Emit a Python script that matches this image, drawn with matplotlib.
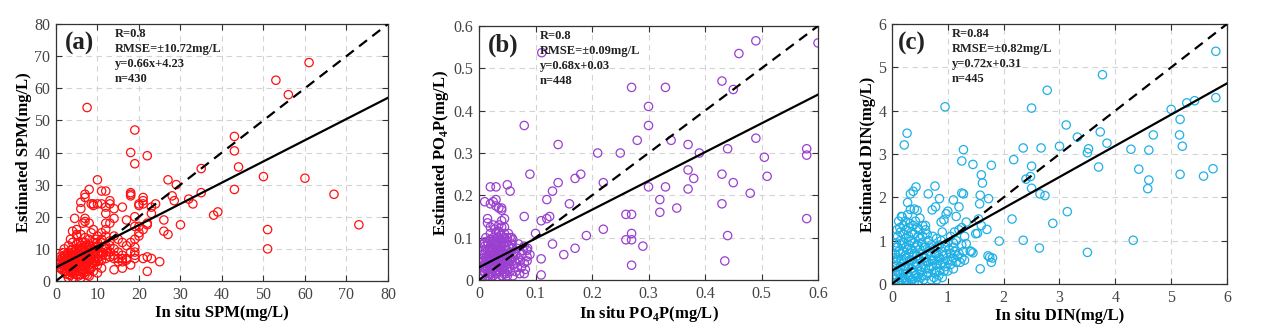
import matplotlib
matplotlib.use("Agg")
import matplotlib.pyplot as plt
import numpy as np

plt.rcParams["font.family"] = ["Liberation Serif", "DejaVu Serif"]
plt.rcParams["mathtext.fontset"] = "custom"
plt.rcParams["mathtext.rm"] = "Liberation Serif:bold"
plt.rcParams["mathtext.bf"] = "Liberation Serif:bold"

# ---- panel (a): SPM (in situ, estimated) ----
spm_points = [
    (7.5, 54), (19, 47), (18, 40), (22, 39), (19, 36.5), (10, 31.5), (8, 28.5), (12, 28), (11, 28),
    (7, 27), (7, 26), (18, 27.5), (18, 27), (18, 26.5), (21, 26), (21, 25), (27, 31.5), (29, 30),
    (28, 26.5), (28.5, 25), (32, 25.5), (33, 24), (35, 35), (35, 27.5), (38, 20.5), (39, 21.5),
    (30, 17.5), (26, 19), (26, 15.5), (27, 14.5), (43, 45), (43, 40.5), (44, 35.5), (43, 28.5),
    (50, 32.5), (53, 62.5), (56, 58), (61, 68), (60, 32), (67, 27), (73, 17.5), (51, 16), (51, 10),
    (22, 3), (25, 6), (23, 7), (22, 7.5), (21, 7), (19, 10.5), (19, 9), (19, 8), (19, 7), (18, 12),
    (18, 5), (16, 8), (16, 7), (16, 4), (14, 3.5), (14, 7), (15, 6), (17, 6.5), (13, 12.5), (14, 14),
    (14, 19.5), (13, 18), (13, 25), (13, 24), (12, 23), (12, 21), (12, 18), (12, 16), (14, 22.5),
    (16, 23), (17, 19), (19, 20), (20, 23.5), (20, 24), (21, 24), (22, 18), (21, 16), (20, 15),
    (20, 14), (19, 13), (19, 17), (20, 17), (23, 23), (23, 21), (24, 24), (22, 17.5), (9, 24),
    (9, 23.5), (10, 24), (8.5, 24), (11, 24), (6, 24.5), (6, 22.5), (7, 19.5), (7, 18.5), (6.5, 18),
    (4.5, 19.5), (8, 18), (5, 16), (4, 15.5), (5, 14.5), (10, 14), (10, 12), (11, 15), (12, 14),
    (9, 16), (16, 12), (15, 13), (17, 11), (18, 9),
    # dense low cluster
    (1, 6), (1.5, 5), (1.5, 7), (2, 4), (2, 6), (2, 8), (2, 10), (2.5, 3), (2.5, 5), (2.5, 7), (3, 2),
    (3, 4), (3, 5.5), (3, 7), (3, 9), (3, 11), (3.5, 3), (3.5, 6), (3.5, 8), (3.5, 13), (4, 1),
    (4, 2.5), (4, 4), (4, 5), (4, 6.5), (4, 8), (4, 10), (4, 12), (4.5, 3), (4.5, 5), (4.5, 7),
    (4.5, 9), (5, 2), (5, 4), (5, 6), (5, 8), (5, 10), (5, 11.5), (5, 14), (5.5, 3), (5.5, 5),
    (5.5, 7), (5.5, 9), (5.5, 12), (6, 2), (6, 4), (6, 6), (6, 8), (6, 10), (6, 11), (6.5, 3.5),
    (6.5, 6.5), (6.5, 9), (6.5, 12), (7, 2), (7, 4.5), (7, 6), (7, 7.5), (7, 9), (7, 10.5), (7, 12),
    (7.5, 3), (7.5, 5.5), (7.5, 8), (7.5, 11), (8, 3.5), (8, 5), (8, 6.5), (8, 8), (8, 9.5), (8, 11),
    (8, 13), (8.5, 4), (8.5, 7), (8.5, 10), (9, 3), (9, 5.5), (9, 7), (9, 8.5), (9, 10), (9, 12),
    (9.5, 6), (9.5, 9), (10, 2.5), (10, 5), (10, 7), (10, 8.5), (10, 11), (11, 4), (11, 6.5),
    (11, 9), (11, 12), (11, 13), (12, 7), (12, 8), (12, 10), (12, 11), (13, 7.5), (13, 9), (13, 11),
    (14, 8), (14, 10), (15, 7), (15, 9), (16, 6), (17, 7), (6, 1), (8, 1.5), (3, 1), (2, 3), (1, 4),
    (1.5, 3.5), (0.5, 5.5), (1, 7.5), (7, 13.5), (6, 14.5), (8.5, 15), (9.5, 13),
    (1.2, 5.5), (1.8, 6.2), (2.2, 4.6), (2.3, 7.4), (2.7, 5.8), (2.8, 8.6), (3.2, 3.4), (3.3, 6.3),
    (3.6, 4.6), (3.7, 7.2), (3.8, 9.6), (4.2, 5.6), (4.3, 7.4), (4.6, 4.2), (4.7, 6.1), (4.8, 8.4),
    (5.2, 5.2), (5.3, 6.9), (5.4, 9.8), (5.7, 4.4), (5.8, 6.2), (5.9, 8.1), (6.2, 5.1), (6.3, 7.2),
    (6.4, 10.4), (6.7, 4.6), (6.8, 8.2), (7.2, 5.3), (7.3, 7.0), (7.4, 9.6), (7.7, 6.4), (7.8, 8.9),
    (8.2, 4.4), (8.3, 7.4), (8.4, 9.0), (8.7, 5.8), (8.8, 8.2), (9.2, 6.4), (9.3, 9.4), (9.7, 7.6),
    (9.8, 10.6), (10.3, 6.2), (10.5, 9.2), (10.7, 7.8), (11.3, 8.2), (11.6, 10.4), (12.4, 9.2),
    (2.4, 2.2), (3.4, 1.8), (4.4, 2.2), (5.4, 1.6), (6.6, 2.4), (7.6, 1.8), (1.3, 4.2), (0.8, 6.6),
    (1.7, 8.8),
]

# ---- panel (b): PO4P ----
po4_points = [
    (0.49, 0.565), (0.6, 0.56), (0.46, 0.535), (0.111, 0.537), (0.43, 0.47), (0.45, 0.45),
    (0.27, 0.455), (0.33, 0.455), (0.3, 0.41), (0.08, 0.365), (0.3, 0.365), (0.28, 0.33),
    (0.34, 0.33), (0.14, 0.32), (0.37, 0.32), (0.44, 0.31), (0.49, 0.335), (0.58, 0.31),
    (0.58, 0.295), (0.21, 0.3), (0.25, 0.3), (0.39, 0.3), (0.505, 0.29), (0.37, 0.26), (0.43, 0.25),
    (0.51, 0.245), (0.09, 0.25), (0.18, 0.25), (0.17, 0.24), (0.38, 0.24), (0.14, 0.23),
    (0.22, 0.23), (0.45, 0.23), (0.3, 0.22), (0.33, 0.22), (0.37, 0.215), (0.48, 0.205),
    (0.13, 0.21), (0.12, 0.19), (0.16, 0.18), (0.32, 0.19), (0.43, 0.18), (0.35, 0.17),
    (0.32, 0.16), (0.26, 0.155), (0.27, 0.155), (0.58, 0.145), (0.11, 0.14), (0.12, 0.145),
    (0.125, 0.15), (0.08, 0.15), (0.22, 0.12), (0.27, 0.11), (0.1, 0.11), (0.19, 0.105),
    (0.44, 0.105), (0.26, 0.095), (0.27, 0.095), (0.13, 0.085), (0.29, 0.08), (0.17, 0.075),
    (0.15, 0.06), (0.11, 0.05), (0.435, 0.045), (0.27, 0.035), (0.11, 0.012), (0.08, 0.015),
    (0.085, 0.055), (0.085, 0.045), (0.086, 0.075), (0.08, 0.08),
    (0.02, 0.22), (0.03, 0.22), (0.05, 0.225), (0.055, 0.21), (0.01, 0.185), (0.02, 0.18),
    (0.025, 0.185), (0.03, 0.19), (0.03, 0.175), (0.035, 0.17), (0.04, 0.17), (0.04, 0.165),
    (0.04, 0.14), (0.045, 0.145), (0.015, 0.145), (0.015, 0.135), (0.04, 0.125), (0.035, 0.11),
    # dense low cluster
    (0.005, 0.01), (0.005, 0.03), (0.005, 0.05), (0.005, 0.07), (0.01, 0.0), (0.01, 0.02),
    (0.01, 0.04), (0.01, 0.06), (0.01, 0.08), (0.015, 0.01), (0.015, 0.03), (0.015, 0.05),
    (0.015, 0.07), (0.015, 0.09), (0.02, 0.005), (0.02, 0.02), (0.02, 0.035), (0.02, 0.05),
    (0.02, 0.065), (0.02, 0.08), (0.02, 0.095), (0.025, 0.01), (0.025, 0.025), (0.025, 0.04),
    (0.025, 0.055), (0.025, 0.07), (0.025, 0.085), (0.025, 0.1), (0.03, 0.0), (0.03, 0.015),
    (0.03, 0.03), (0.03, 0.045), (0.03, 0.06), (0.03, 0.075), (0.03, 0.09), (0.035, 0.005),
    (0.035, 0.02), (0.035, 0.04), (0.035, 0.06), (0.035, 0.08), (0.035, 0.1), (0.04, 0.01),
    (0.04, 0.03), (0.04, 0.05), (0.04, 0.07), (0.04, 0.09), (0.045, 0.02), (0.045, 0.04),
    (0.045, 0.06), (0.045, 0.08), (0.045, 0.1), (0.05, 0.01), (0.05, 0.03), (0.05, 0.05),
    (0.05, 0.07), (0.05, 0.09), (0.055, 0.02), (0.055, 0.045), (0.055, 0.065), (0.055, 0.1),
    (0.06, 0.01), (0.06, 0.035), (0.06, 0.055), (0.06, 0.075), (0.065, 0.04), (0.065, 0.06),
    (0.065, 0.02), (0.07, 0.05), (0.07, 0.085), (0.075, 0.03), (0.075, 0.06), (0.08, 0.04),
    (0.085, 0.07), (0.03, 0.11), (0.035, 0.115), (0.04, 0.105), (0.045, 0.11), (0.05, 0.1),
    (0.02, 0.11), (0.01, 0.09), (0.012, 0.1), (0.008, 0.085), (0.018, 0.075), (0.022, 0.045),
    (0.028, 0.05), (0.032, 0.065), (0.038, 0.035), (0.042, 0.025), (0.048, 0.015), (0.052, 0.055),
    (0.058, 0.085), (0.062, 0.065), (0.068, 0.03), (0.072, 0.015),
    (0.003, 0.015), (0.007, 0.045), (0.012, 0.025), (0.013, 0.055), (0.017, 0.04), (0.018, 0.06),
    (0.022, 0.015), (0.023, 0.075), (0.027, 0.03), (0.027, 0.065), (0.028, 0.09), (0.032, 0.02),
    (0.033, 0.05), (0.034, 0.085), (0.037, 0.045), (0.038, 0.07), (0.042, 0.06), (0.043, 0.085),
    (0.047, 0.035), (0.047, 0.07), (0.052, 0.04), (0.053, 0.08), (0.006, 0.06), (0.009, 0.035),
    (0.011, 0.07), (0.016, 0.085), (0.019, 0.095), (0.021, 0.03), (0.024, 0.06), (0.026, 0.045),
    (0.029, 0.08), (0.031, 0.04), (0.033, 0.07), (0.036, 0.05), (0.039, 0.095), (0.041, 0.04),
    (0.044, 0.05), (0.046, 0.09), (0.049, 0.06), (0.051, 0.025), (0.004, 0.04), (0.008, 0.02),
    (0.014, 0.045), (0.017, 0.015), (0.023, 0.09), (0.028, 0.02), (0.032, 0.1), (0.036, 0.03),
    (0.04, 0.08), (0.044, 0.015), (0.048, 0.045), (0.054, 0.075), (0.057, 0.05), (0.063, 0.045),
    (0.067, 0.075), (0.073, 0.045), (0.078, 0.07), (0.082, 0.025), (0.09, 0.06), (0.06, 0.095),
    (0.028, 0.12), (0.025, 0.13), (0.045, 0.125), (0.052, 0.11), (0.058, 0.1), (0.035, 0.13),
    (0.02, 0.125),
]

# ---- panel (c): DIN ----
din_points = [
    (5.8, 5.37), (3.77, 4.83), (2.78, 4.47), (5.8, 4.3), (5.42, 4.23), (5.28, 4.18), (5.0, 4.03),
    (2.5, 4.06), (0.95, 4.09), (0.27, 3.48), (0.22, 3.21), (3.12, 3.67), (5.16, 3.8), (5.15, 3.44),
    (4.68, 3.44), (3.73, 3.51), (3.32, 3.39), (3.85, 3.25), (5.2, 3.18), (3.0, 3.18), (3.52, 3.12),
    (2.35, 3.14), (2.67, 3.14), (1.28, 3.1), (4.28, 3.11), (4.6, 3.09), (3.5, 3.03), (2.18, 2.87),
    (1.25, 2.84), (1.45, 2.76), (1.78, 2.74), (2.5, 2.72), (3.7, 2.7), (4.42, 2.65), (5.75, 2.66),
    (5.16, 2.53), (5.58, 2.49), (1.6, 2.52), (2.4, 2.42), (2.48, 2.48), (1.62, 2.33), (4.6, 2.4),
    (4.58, 2.2), (2.5, 2.21), (0.77, 2.26), (0.43, 2.24), (0.38, 2.14), (0.33, 2.08), (0.65, 2.08),
    (1.25, 2.1), (1.28, 2.08), (1.58, 2.05), (1.73, 1.97), (0.85, 1.97), (0.28, 1.88), (1.1, 1.94),
    (2.65, 2.08), (2.74, 2.04), (1.57, 1.85), (1.2, 1.78), (0.78, 1.78), (0.4, 1.73), (0.45, 1.7),
    (0.33, 1.72), (0.72, 1.71), (1.0, 1.68), (0.97, 1.62), (0.17, 1.56), (0.5, 1.52), (1.15, 1.56),
    (2.15, 1.5), (3.14, 1.67), (1.55, 1.5), (0.93, 1.48), (0.88, 1.43), (1.33, 1.43), (1.6, 1.35),
    (2.88, 1.4), (1.7, 1.26), (1.12, 1.2), (1.3, 1.1), (1.5, 1.16), (1.53, 1.17), (1.92, 0.99),
    (2.35, 1.01), (4.32, 1.01), (2.64, 0.83), (3.5, 0.73), (1.58, 0.35), (1.72, 0.65), (1.78, 0.5),
    (1.8, 0.6), (1.75, 0.62), (1.45, 0.72), (1.42, 0.75), (1.4, 0.76), (1.33, 0.93),
    (1.2, 1.25), (1.05, 1.1), (1.1, 0.95), (1.25, 1.3), (0.6, 1.25), (0.55, 1.35),
    # dense low cluster
    (0.05, 0.1), (0.05, 0.4), (0.05, 0.7), (0.08, 0.2), (0.08, 0.55), (0.08, 0.95), (0.1, 0.05),
    (0.1, 0.3), (0.1, 0.6), (0.1, 0.85), (0.1, 1.1), (0.15, 0.15), (0.15, 0.4), (0.15, 0.7),
    (0.15, 1.0), (0.15, 1.2), (0.2, 0.05), (0.2, 0.25), (0.2, 0.5), (0.2, 0.75), (0.2, 0.95),
    (0.2, 1.15), (0.2, 1.35), (0.25, 0.1), (0.25, 0.35), (0.25, 0.6), (0.25, 0.85), (0.25, 1.05),
    (0.25, 1.25), (0.3, 0.0), (0.3, 0.2), (0.3, 0.45), (0.3, 0.7), (0.3, 0.9), (0.3, 1.1),
    (0.3, 1.3), (0.35, 0.1), (0.35, 0.35), (0.35, 0.55), (0.35, 0.8), (0.35, 1.0), (0.35, 1.2),
    (0.4, 0.05), (0.4, 0.25), (0.4, 0.5), (0.4, 0.7), (0.4, 0.95), (0.4, 1.15), (0.45, 0.15),
    (0.45, 0.4), (0.45, 0.65), (0.45, 0.9), (0.45, 1.3), (0.5, 0.3), (0.5, 0.55), (0.5, 0.8),
    (0.5, 1.05), (0.55, 0.2), (0.55, 0.45), (0.55, 0.7), (0.55, 1.1), (0.6, 0.35), (0.6, 0.6),
    (0.6, 0.85), (0.6, 1.35), (0.65, 0.25), (0.65, 0.5), (0.65, 0.75), (0.65, 1.0), (0.7, 0.4),
    (0.7, 0.65), (0.7, 0.9), (0.75, 0.15), (0.75, 0.55), (0.75, 0.8), (0.8, 0.1), (0.8, 0.45),
    (0.8, 0.7), (0.8, 1.05), (0.85, 0.3), (0.85, 0.6), (0.85, 0.9), (0.9, 0.5), (0.9, 0.75),
    (0.9, 1.2), (0.95, 0.4), (0.95, 0.85), (1.0, 0.55), (1.0, 0.95), (1.05, 0.45), (1.05, 0.7),
    (1.1, 0.6), (1.1, 0.85), (1.15, 0.5), (1.15, 1.0), (1.2, 0.7), (1.25, 0.6), (1.25, 0.9),
    (1.3, 0.55), (0.02, 0.3), (0.02, 0.6), (0.03, 0.0), (0.12, 1.45), (0.18, 1.55), (0.28, 1.6),
    (0.07, 0.5), (0.12, 0.75), (0.13, 0.25), (0.17, 0.55), (0.18, 0.9), (0.22, 0.4), (0.23, 0.65),
    (0.27, 0.25), (0.28, 0.8), (0.32, 0.55), (0.33, 1.0), (0.37, 0.65), (0.38, 0.3), (0.42, 0.85),
    (0.43, 0.45), (0.47, 1.1), (0.48, 0.6), (0.52, 0.4), (0.53, 0.95), (0.57, 0.6), (0.58, 0.85),
    (0.62, 0.5), (0.63, 1.15), (0.67, 0.35), (0.68, 0.85), (0.72, 0.55), (0.73, 1.1), (0.77, 0.7),
    (0.78, 0.3), (0.82, 0.85), (0.83, 0.55), (0.87, 0.45), (0.88, 1.0), (0.92, 0.65), (0.93, 0.3),
    (0.97, 0.7), (1.02, 0.8), (1.07, 0.55), (1.12, 0.75), (1.17, 0.65), (1.22, 0.5), (1.28, 0.75),
    (0.12, 0.05), (0.17, 0.1), (0.22, 0.15), (0.27, 0.05), (0.32, 0.15), (0.37, 0.1), (0.42, 0.2),
    (0.47, 0.05), (0.52, 0.15), (0.57, 0.1), (0.62, 0.2), (0.7, 0.1), (0.76, 0.25), (0.84, 0.2),
    (0.9, 0.15), (1.0, 0.3), (1.1, 0.35), (0.06, 0.85), (0.09, 1.25), (0.14, 1.3), (0.24, 1.45),
    (0.32, 1.4), (0.38, 1.35), (0.48, 1.25), (0.42, 1.45),
]

# fit coefficients (slope, intercept) and stats text
fits = [(0.66, 4.23), (0.68, 0.03), (0.72, 0.31)]
stats = [
    "R=0.8\nRMSE=\u00b110.72mg/L\ny=0.66x+4.23\nn=430",
    "R=0.8\nRMSE=\u00b10.09mg/L\ny=0.68x+0.03\nn=448",
    "R=0.84\nRMSE=\u00b10.82mg/L\ny=0.72x+0.31\nn=445",
]
tags = ["(a)", "(b)", "(c)"]
limits = [80, 0.6, 6]
ticks = [
    np.arange(0, 81, 10),
    [0, 0.1, 0.2, 0.3, 0.4, 0.5, 0.6],
    np.arange(0, 7, 1),
]
tick_labels = [
    [str(t) for t in range(0, 81, 10)],
    ["0", "0.1", "0.2", "0.3", "0.4", "0.5", "0.6"],
    [str(t) for t in range(0, 7)],
]
xlabels = ["In situ SPM(mg/L)", r"In situ PO$_{\mathbf{4}}$P(mg/L)", "In situ DIN(mg/L)"]
ylabels = ["Estimated SPM(mg/L)", r"Estimated PO$_{\mathbf{4}}$P(mg/L)", "Estimated DIN(mg/L)"]
colors = ["#FF1010", "#9A3FCF", "#1FB0E6"]
datasets = [spm_points, po4_points, din_points]

# axes boxes in figure fractions
boxes = [
    [0.0441, 0.1433, 0.2616, 0.7835],
    [0.3775, 0.1463, 0.2671, 0.7744],
    [0.7029, 0.1341, 0.2640, 0.7927],
]
text_x = [0.178, 0.18, 0.179]
tag_x = [0.027, 0.027, 0.018]

fig = plt.figure(figsize=(12.69, 3.28), dpi=100)

for i in range(3):
    ax = fig.add_axes(boxes[i])
    pts = np.array(datasets[i])
    ax.scatter(pts[:, 0], pts[:, 1], s=36, facecolors="none",
               edgecolors=colors[i], linewidths=0.9, zorder=2)

    lim = limits[i]
    xx = np.array([0, lim])
    ax.plot(xx, xx, color="black", linestyle=(0, (4.5, 3)), linewidth=1.6, zorder=3)
    k, b = fits[i]
    ax.plot(xx, k * xx + b, color="black", linewidth=1.6, zorder=3)

    ax.set_xlim(0, lim)
    ax.set_ylim(0, lim)
    ax.set_xticks(ticks[i])
    ax.set_yticks(ticks[i])
    ax.set_xticklabels(tick_labels[i])
    ax.set_yticklabels(tick_labels[i])
    ax.tick_params(direction="in", top=True, right=True, length=4, width=0.8,
                   labelsize=11.5, colors="#333333", labelcolor="#444444", pad=4)
    ax.grid(True, linestyle=(0, (5, 4)), color="#d4d4d4", linewidth=0.8, zorder=0)
    ax.set_axisbelow(True)
    for sp in ax.spines.values():
        sp.set_color("#333333")
        sp.set_linewidth(0.9)

    ax.set_xlabel(xlabels[i], fontsize=12, fontweight="bold", labelpad=2)
    ax.set_ylabel(ylabels[i], fontsize=12, fontweight="bold", labelpad=2)

    ax.text(tag_x[i], 0.925, tags[i], transform=ax.transAxes, fontsize=18,
            fontweight="bold", ha="left", va="center", color="#222222")
    ax.text(text_x[i], 0.985, stats[i], transform=ax.transAxes, fontsize=9,
            fontweight="bold", ha="left", va="top", linespacing=1.35, color="#222222")

fig.savefig("out.png", dpi=100)
